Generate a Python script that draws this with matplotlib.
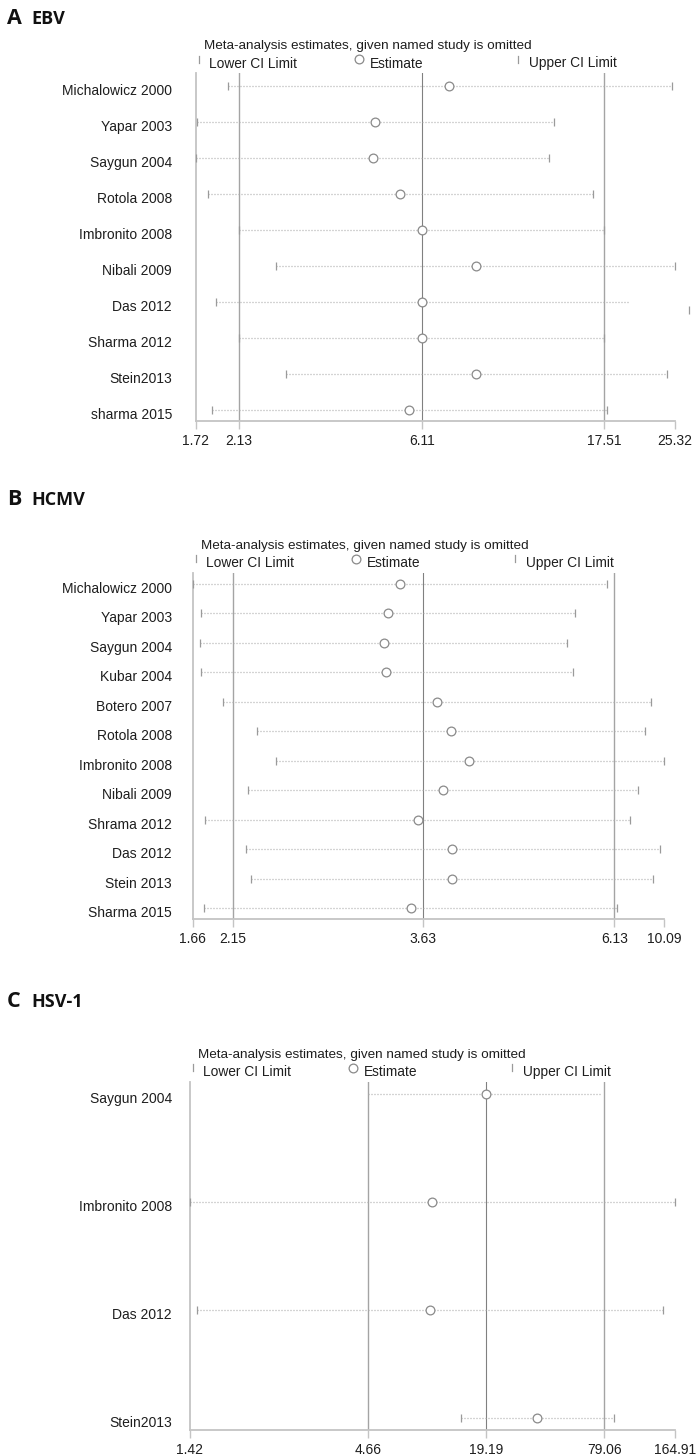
import numpy as np
import matplotlib
matplotlib.use("Agg")
import matplotlib.pyplot as plt
from matplotlib.ticker import NullLocator
from matplotlib.lines import Line2D
import matplotlib.transforms as mtransforms

plt.rcParams['font.family'] = ['Liberation Sans', 'DejaVu Sans']

# ---------------- data ----------------
ebv_studies = ["Michalowicz 2000", "Yapar 2003", "Saygun 2004", "Rotola 2008",
               "Imbronito 2008", "Nibali 2009", "Das 2012", "Sharma 2012",
               "Stein2013", "sharma 2015"]
ebv_est = [7.14, 4.66, 4.60, 5.38, 6.11, 8.33, 6.12, 6.11, 8.36, 5.68]
ebv_lower = [2.02, 1.73, 1.72, 1.83, 2.13, 2.64, 1.90, 2.13, 2.79, 1.87]
ebv_upper = [24.95, 13.06, 12.74, 16.44, 17.51, 25.32, 27.27, 17.51, 24.32, 17.77]
ebv_dotted_end = [24.95, 13.06, 12.74, 16.44, 17.51, 25.32, 20.04, 17.51, 24.32, 17.77]
ebv_ticks = [1.72, 2.13, 6.11, 17.51, 25.32]
ebv_tick_labels = ["1.72", "2.13", "6.11", "17.51", "25.32"]

hcmv_studies = ["Michalowicz 2000", "Yapar 2003", "Saygun 2004", "Kubar 2004",
                "Botero 2007", "Rotola 2008", "Imbronito 2008", "Nibali 2009",
                "Shrama 2012", "Das 2012", "Stein 2013", "Sharma 2015"]
hcmv_est = [3.40, 3.29, 3.26, 3.28, 3.77, 3.92, 4.12, 3.83, 3.58, 3.93, 3.93, 3.51]
hcmv_lower = [1.66, 1.75, 1.74, 1.75, 2.02, 2.30, 2.42, 2.24, 1.80, 2.23, 2.26, 1.79]
hcmv_upper = [6.01, 5.51, 5.39, 5.48, 8.86, 8.32, 10.09, 7.81, 7.20, 9.74, 9.08, 6.30]
hcmv_dotted_end = hcmv_upper
hcmv_ticks = [1.66, 2.15, 3.63, 6.13, 10.09]
hcmv_tick_labels = ["1.66", "2.15", "3.63", "6.13", "10.09"]

hsv_studies = ["Saygun 2004", "Imbronito 2008", "Das 2012", "Stein2013"]
hsv_est = [19.19, 10.11, 9.82, 35.38]
hsv_lower = [4.66, 1.42, 1.49, 14.17]
hsv_upper = [75.8, 164.91, 145.7, 86.9]
hsv_dotted_end = hsv_upper
hsv_ticks = [1.42, 4.66, 19.19, 79.06, 164.91]
hsv_tick_labels = ["1.42", "4.66", "19.19", "79.06", "164.91"]

# ---------------- layout (pixels) ----------------
W, H = 700, 1455
fig = plt.figure(figsize=(W / 100, H / 100), dpi=100)

panels = [
    dict(letter="A", name="EBV", title_base=24,
         studies=ebv_studies, est=ebv_est, lo=ebv_lower, hi=ebv_upper, dend=ebv_dotted_end,
         ticks=ebv_ticks, tlabels=ebv_tick_labels,
         fracs=[0, 0.0901, 0.4725, 0.8535, 1.0],
         left=195.6, right=674.6, top=73, axis=421, row0=85.7, step=36.0,
         cap_drop={6: 0.22}, hide_caps=[]),
    dict(letter="B", name="HCMV", title_base=505,
         studies=hcmv_studies, est=hcmv_est, lo=hcmv_lower, hi=hcmv_upper, dend=hcmv_dotted_end,
         ticks=hcmv_ticks, tlabels=hcmv_tick_labels,
         fracs=[0, 0.0849, 0.4892, 0.8943, 1.0],
         left=192.8, right=664.0, top=572.7, axis=919.3, row0=584.0, step=29.45,
         cap_drop={}, hide_caps=[]),
    dict(letter="C", name="HSV-1", title_base=1007,
         studies=hsv_studies, est=hsv_est, lo=hsv_lower, hi=hsv_upper, dend=hsv_dotted_end,
         ticks=hsv_ticks, tlabels=hsv_tick_labels,
         fracs=[0, 0.3671, 0.6098, 0.8540, 1.0],
         left=189.6, right=675.3, top=1081.7, axis=1430.0, row0=1093.7, step=108.0,
         cap_drop={}, hide_caps=[0]),
]

AXIS_C = "#c4c4c4"
REF_C = "#a4a4a4"
EST_C = "#808080"
DOT_C = "#ababab"
CAP_C = "#9a9a9a"
MK_C = "#8a8a8a"
TXT_C = "#1e1e1e"


def make_scale(ticks, fracs):
    lt = np.log(np.asarray(ticks, float))
    f = np.asarray(fracs, float)
    s0 = (f[1] - f[0]) / (lt[1] - lt[0])
    s1 = (f[-1] - f[-2]) / (lt[-1] - lt[-2])

    def fwd(v):
        v = np.asarray(v, float)
        lv = np.log(np.clip(v, 1e-9, None))
        out = np.interp(lv, lt, f)
        out = np.where(lv < lt[0], f[0] + (lv - lt[0]) * s0, out)
        out = np.where(lv > lt[-1], f[-1] + (lv - lt[-1]) * s1, out)
        return out

    def inv(u):
        u = np.asarray(u, float)
        lv = np.interp(u, f, lt)
        lv = np.where(u < f[0], lt[0] + (u - f[0]) / s0, lv)
        lv = np.where(u > f[-1], lt[-1] + (u - f[-1]) / s1, lv)
        return np.exp(lv)

    return fwd, inv


def fx(x):
    return x / W


def fy(y):
    return 1 - y / H


for p in panels:
    n = len(p["studies"])
    ax = fig.add_axes([fx(p["left"]), fy(p["axis"]),
                       (p["right"] - p["left"]) / W, (p["axis"] - p["top"]) / H])
    fwd, inv = make_scale(p["ticks"], p["fracs"])
    ax.set_xscale("function", functions=(fwd, inv))
    ax.set_xlim(p["ticks"][0], p["ticks"][-1])
    top_val = -(p["row0"] - p["top"]) / p["step"]
    bot_val = (n - 1) + (p["axis"] - (p["row0"] + (n - 1) * p["step"])) / p["step"]
    ax.set_ylim(bot_val, top_val)

    for s in ["top", "right"]:
        ax.spines[s].set_visible(False)
    for s in ["left", "bottom"]:
        ax.spines[s].set_color(AXIS_C)
        ax.spines[s].set_linewidth(1.3)

    # reference lines
    ax.axvline(p["ticks"][1], color=REF_C, lw=1.0, zorder=1)
    ax.axvline(p["ticks"][2], color=EST_C, lw=0.8, zorder=1)
    ax.axvline(p["ticks"][3], color=REF_C, lw=1.0, zorder=1)

    rows = np.arange(n)
    ax.hlines(rows, p["lo"], p["dend"], colors=DOT_C, lw=0.9,
              linestyles=(0, (0.8, 1.6)), zorder=2)
    keep = [r for r in rows if r not in p["hide_caps"]]
    ax.plot([p["lo"][r] for r in keep], keep, ls="none", marker="|", ms=5.5, mew=0.9,
            color=CAP_C, zorder=3, clip_on=False)
    hi_rows = [r + p["cap_drop"].get(r, 0.0) for r in keep]
    ax.plot([p["hi"][r] for r in keep], hi_rows, ls="none", marker="|", ms=5.5, mew=0.9,
            color=CAP_C, zorder=3, clip_on=False)
    ax.plot(p["est"], rows, ls="none", marker="o", ms=6.3, mfc="white", mec=MK_C,
            mew=0.9, zorder=4, clip_on=False)

    # x ticks
    ax.set_xticks(p["ticks"])
    ax.set_xticklabels(p["tlabels"])
    ax.xaxis.set_minor_locator(NullLocator())
    ax.tick_params(axis="x", length=5.5, width=1.0, color=AXIS_C, pad=4.0,
                   labelsize=10, labelcolor=TXT_C)
    ax.set_yticks([])

    # y labels (study names)
    tr = mtransforms.blended_transform_factory(fig.transFigure, ax.transData)
    tr = tr + mtransforms.ScaledTranslation(0, -5 / 100, fig.dpi_scale_trans)
    for r, name in zip(rows, p["studies"]):
        ax.text(fx(172), r, name, transform=tr, ha="right", va="center",
                fontsize=10, color=TXT_C, clip_on=False)

    # legend block above plot
    L = p["left"]
    T = p["top"]
    fig.text(fx(L + 8), fy(T - 27), "Meta-analysis estimates, given named study is omitted",
             ha="left", va="center", fontsize=9.7, color=TXT_C)
    ly = T - 9.5
    sy = T - 14
    fig.text(fx(L + 13), fy(ly), "Lower CI Limit", ha="left", va="center",
             fontsize=9.9, color=TXT_C)
    fig.text(fx(L + 174), fy(ly), "Estimate", ha="left", va="center",
             fontsize=9.9, color=TXT_C)
    fig.text(fx(L + 333), fy(ly), "Upper CI Limit", ha="left", va="center",
             fontsize=9.9, color=TXT_C)
    for cx in (L + 3, L + 322):
        fig.add_artist(Line2D([fx(cx), fx(cx)], [fy(sy - 3.5), fy(sy + 3.5)],
                              transform=fig.transFigure, color=CAP_C, lw=0.9))
    fig.add_artist(Line2D([fx(L + 163)], [fy(sy)], transform=fig.transFigure,
                          ls="none", marker="o", ms=6.3, mfc="white", mec=MK_C, mew=0.9))

    # panel title
    fig.text(fx(7), fy(p["title_base"]), p["letter"], ha="left", va="baseline",
             fontsize=15.5, fontweight="bold", family=["Open Sans", "DejaVu Sans"],
             color="#111111")
    fig.text(fx(31), fy(p["title_base"]), p["name"], ha="left", va="baseline",
             fontsize=13, fontweight="bold", family=["Open Sans", "DejaVu Sans"],
             color="#111111")

fig.savefig("out.png", dpi=100, facecolor="white")
